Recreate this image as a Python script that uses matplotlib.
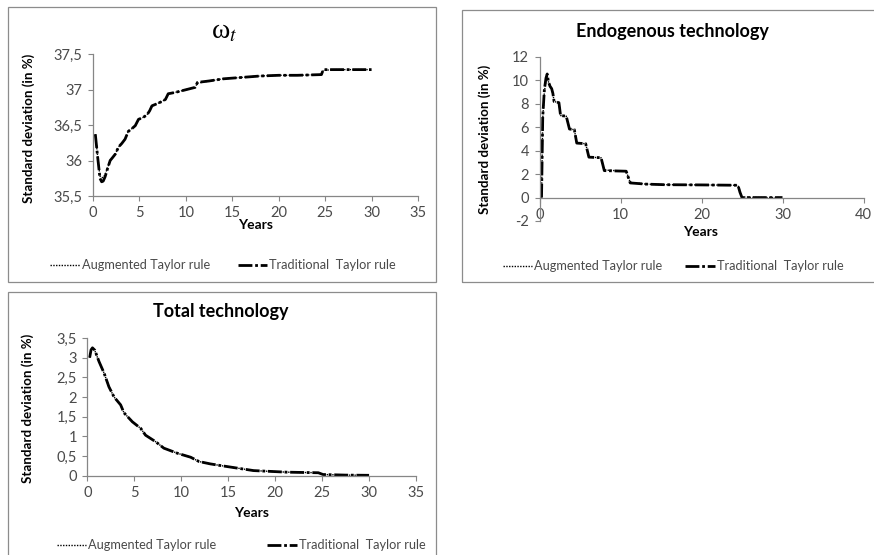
import matplotlib
matplotlib.use("Agg")
import matplotlib.pyplot as plt
from matplotlib.lines import Line2D
from matplotlib.patches import Rectangle

# ---------------- data ----------------
omega_x = [0.25, 0.5, 0.75, 0.93, 1.1, 1.3, 1.6, 1.85, 2.1, 2.4, 2.75, 3.1, 3.45, 3.8, 4.2,
           4.55, 4.9, 5.3, 5.8, 6.1, 6.35, 6.9, 7.4, 7.8, 8.1, 8.5, 9.2, 10.1, 11.0, 11.25,
           12.5, 14, 16, 18, 20, 22, 24.6, 24.8, 26, 28, 30]
omega_trad = [36.37, 36.05, 35.75, 35.70, 35.71, 35.77, 35.90, 36.00, 36.04, 36.09, 36.19,
              36.24, 36.30, 36.41, 36.45, 36.49, 36.58, 36.60, 36.64, 36.70, 36.77, 36.80,
              36.83, 36.86, 36.94, 36.95, 36.97, 37.00, 37.03, 37.10, 37.12, 37.15, 37.17,
              37.19, 37.20, 37.20, 37.21, 37.28, 37.28, 37.28, 37.28]
omega_aug = [36.37, 36.06, 35.78, 35.76, 35.76, 35.80, 35.91, 36.00, 36.04, 36.09, 36.19,
             36.24, 36.30, 36.41, 36.45, 36.49, 36.58, 36.60, 36.64, 36.70, 36.77, 36.80,
             36.83, 36.86, 36.94, 36.95, 36.97, 37.00, 37.03, 37.09, 37.12, 37.15, 37.17,
             37.19, 37.20, 37.20, 37.21, 37.27, 37.28, 37.28, 37.28]

endo_x = [0.25, 0.4, 0.6, 0.8, 0.95, 1.1, 1.3, 1.5, 1.65, 1.8, 2.4, 2.6, 3.3, 3.7, 4.3, 4.6,
          5.7, 6.1, 7.6, 8.0, 10.7, 11.2, 13.1, 15.4, 20, 24.5, 24.75, 25.0, 27, 30]
endo_trad = [0.0, 6.9, 9.2, 10.2, 10.55, 9.9, 9.5, 9.3, 8.9, 8.2, 8.1, 7.0, 6.95, 5.85, 5.8,
             4.65, 4.6, 3.45, 3.4, 2.3, 2.25, 1.25, 1.15, 1.1, 1.08, 1.05, 0.45, 0.0, 0.0, 0.0]
endo_aug = [0.0, 6.7, 9.0, 10.0, 10.4, 9.9, 9.5, 9.3, 8.9, 8.2, 8.1, 7.0, 6.95, 5.85, 5.8,
            4.65, 4.6, 3.45, 3.4, 2.35, 2.25, 1.3, 1.15, 1.1, 1.08, 1.05, 0.6, 0.05, 0.0, 0.0]

tot_x = [0.25, 0.4, 0.55, 0.8, 1.25, 1.8, 2.3, 2.85, 3.55, 3.9, 4.8, 5.7, 6.2, 7.3, 8.15,
         9.6, 11.0, 11.9, 13.1, 14.4, 17.7, 21.2, 24.6, 25.1, 27.5, 30]
tot_trad = [3.0, 3.2, 3.25, 3.19, 2.9, 2.6, 2.26, 2.0, 1.8, 1.6, 1.37, 1.2, 1.03, 0.86, 0.7,
            0.57, 0.47, 0.36, 0.3, 0.25, 0.13, 0.09, 0.075, 0.03, 0.015, 0.01]
tot_aug = [3.0, 3.19, 3.24, 3.18, 2.9, 2.6, 2.26, 2.0, 1.8, 1.6, 1.37, 1.2, 1.03, 0.86, 0.7,
           0.57, 0.47, 0.36, 0.3, 0.25, 0.13, 0.09, 0.075, 0.03, 0.015, 0.01]

series_labels = ["Augmented Taylor rule", "Traditional  Taylor rule"]
titles = [r"ω$_{t}$", "Endogenous technology", "Total technology"]
y_label = "Standard deviation (in %)"
x_label = "Years"

omega_yticks = [35.5, 36, 36.5, 37, 37.5]
omega_yticklabels = ["35,5", "36", "36,5", "37", "37,5"]
endo_yticks = [-2, 0, 2, 4, 6, 8, 10, 12]
endo_yticklabels = ["-2", "0", "2", "4", "6", "8", "10", "12"]
tot_yticks = [0, 0.5, 1, 1.5, 2, 2.5, 3, 3.5]
tot_yticklabels = ["0", "0,5", "1", "1,5", "2", "2,5", "3", "3,5"]
xticks_35 = [0, 5, 10, 15, 20, 25, 30, 35]
xticks_40 = [0, 10, 20, 30, 40]

# ---------------- style ----------------
plt.rcParams['font.family'] = ['Lato', 'DejaVu Sans']
W, H = 874, 555
fig = plt.figure(figsize=(W / 100, H / 100), dpi=100)
fig.patch.set_facecolor('white')

AX_COL = '#868686'
TXT_COL = '#4a4a4a'
FRAME_COL = '#8c8c8c'


def fx(px):
    return px / W


def fy(py):
    return 1 - py / H


def make_ax(l, r, t, b):
    return fig.add_axes([fx(l), fy(b), fx(r - l), (b - t) / H])


def style_ax(ax):
    for s in ['top', 'right']:
        ax.spines[s].set_visible(False)
    for s in ['left', 'bottom']:
        ax.spines[s].set_color(AX_COL)
        ax.spines[s].set_linewidth(0.9)
    ax.tick_params(axis='both', direction='out', length=3.5, width=0.8, color=AX_COL,
                   labelsize=10.5, labelcolor=TXT_COL)
    ax.tick_params(axis='x', pad=4)
    ax.tick_params(axis='y', pad=4)


def plot_pair(ax, x, aug, trad):
    ax.plot(x, trad, color='black', lw=2.0, dashes=[5, 1, 1, 1], solid_capstyle='butt',
            dash_capstyle='butt')
    ax.plot(x, aug, color='black', lw=1.0, linestyle=(0, (1, 1)))


# frames of the three chart boxes
frame_specs = [(8, 7, 436, 282), (462, 10, 880, 282), (8, 292, 436, 560)]
for (l, t, r, b) in frame_specs:
    fig.add_artist(Rectangle((fx(l), fy(b)), fx(r - l), (b - t) / H, transform=fig.transFigure,
                             fill=False, edgecolor=FRAME_COL, lw=0.9, clip_on=False))

handles = [Line2D([], [], color='black', lw=1.0, linestyle=(0, (1, 1))),
           Line2D([], [], color='black', lw=2.0, dashes=[5, 1, 1, 1])]

# ---- panel 1 : omega ----
ax1 = make_ax(93, 418, 54, 196)
plot_pair(ax1, omega_x, omega_aug, omega_trad)
ax1.set_xlim(0, 35)
ax1.set_ylim(35.5, 37.5)
ax1.set_xticks(xticks_35)
ax1.set_yticks(omega_yticks)
ax1.set_yticklabels(omega_yticklabels)
style_ax(ax1)

# ---- panel 2 : endogenous technology ----
ax2 = make_ax(539.5, 863.5, 57, 221)
plot_pair(ax2, endo_x, endo_aug, endo_trad)
ax2.set_xlim(0, 40)
ax2.set_ylim(-2, 12)
ax2.set_xticks(xticks_40)
ax2.set_yticks(endo_yticks)
ax2.set_yticklabels(endo_yticklabels)
style_ax(ax2)
ax2.spines['bottom'].set_position(('data', 0))

# ---- panel 3 : total technology ----
ax3 = make_ax(87.3, 416, 338, 475.7)
plot_pair(ax3, tot_x, tot_aug, tot_trad)
ax3.set_xlim(0, 35)
ax3.set_ylim(0, 3.5)
ax3.set_xticks(xticks_35)
ax3.set_yticks(tot_yticks)
ax3.set_yticklabels(tot_yticklabels)
style_ax(ax3)

# ---- titles, axis labels, legends ----
fig.text(fx(224), fy(32), titles[0], ha='center', va='center', fontsize=20,
         family=['Liberation Serif', 'DejaVu Serif'], math_fontfamily='stix', color='black')
fig.text(fx(672.5), fy(32), titles[1], ha='center', va='center', fontsize=13,
         fontweight='bold', color='black')
fig.text(fx(221), fy(312), titles[2], ha='center', va='center', fontsize=13,
         fontweight='bold', color='black')

for (xc, yc) in [(29, 128), (485, 139), (28, 408)]:
    fig.text(fx(xc), fy(yc), y_label, ha='center', va='center', rotation=90,
             fontsize=9.6, fontweight='bold', color='black')
for (xc, yc) in [(256, 225), (701, 232), (252, 513)]:
    fig.text(fx(xc), fy(yc), x_label, ha='center', va='center',
             fontsize=10, fontweight='bold', color='black')

for (xc, yc, cs) in [(223, 265, 2.2), (673, 266, 1.8), (241, 545, 4.0)]:
    fig.legend(handles, series_labels, loc='center', bbox_to_anchor=(fx(xc), fy(yc)),
               bbox_transform=fig.transFigure, ncol=2, frameon=False, fontsize=9.2,
               handlelength=2.3, handletextpad=0.15, columnspacing=cs,
               labelcolor=TXT_COL, borderpad=0, borderaxespad=0)

fig.savefig('out.png', dpi=100, facecolor='white')
